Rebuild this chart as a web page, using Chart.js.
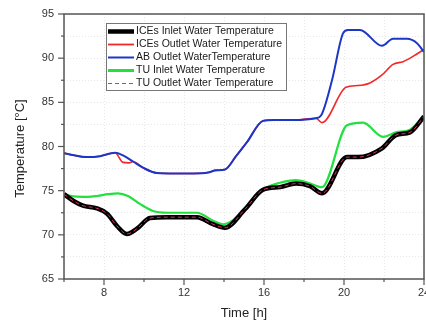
<!DOCTYPE html>
<html><head><meta charset="utf-8">
<script src="https://cdn.jsdelivr.net/npm/chart.js@4/dist/chart.umd.min.js"></script>
<style>html,body{margin:0;padding:0;background:#fff;}#wrap{width:426px;height:322px;}</style>
</head><body><div id="wrap"><canvas id="c" width="426" height="322"></canvas></div>
<script>
// ---- data (hours, °C) ----
const seriesNames = ["ICEs Inlet Water Temperature","ICEs Outlet Water Temperature","AB Outlet WaterTemperature","TU Inlet Water Temperature","TU Outlet Water Temperature"];

const iceInletHours = [6,6.5,6.95,7.65,8.15,8.65,9.15,9.65,10.3,11.15,12.65,13.45,14.05,15.05,15.95,16.8,17.6,18.3,18.9,20.15,20.7,21.9,22.6,23.3,24];
const iceInletTemp  = [74.6,73.8,73.3,73.0,72.4,71.0,70.1,70.7,71.9,72.0,72.0,71.2,70.8,72.9,75.1,75.4,75.8,75.5,74.7,78.8,78.8,79.8,81.3,81.6,83.4];

const abOutletHours = [6,6.5,7.1,7.8,8.55,8.95,9.45,9.95,10.65,11.5,12.5,13.2,13.6,14.05,14.6,15.15,15.95,16.5,17.5,18.6,18.85,19.4,19.95,20.2,20.8,21.9,22.45,23.15,23.65,24];
const abOutletTemp  = [79.25,79.0,78.8,78.9,79.3,79.0,78.3,77.6,77.0,76.95,76.95,77.05,77.3,77.4,78.9,80.5,82.9,83.0,83.0,83.2,83.5,87.5,92.8,93.2,93.2,91.4,92.2,92.2,91.7,90.7];

const iceOutletHours = [6,6.5,7.1,7.8,8.55,8.95,9.25,9.45,9.95,10.65,11.5,12.5,13.2,13.6,14.05,14.6,15.15,15.95,16.5,17.5,18.6,18.9,20.1,20.7,21.3,21.9,22.45,22.95,23.45,24];
const iceOutletTemp  = [79.25,79.0,78.8,78.9,79.3,78.2,78.15,78.3,77.6,77.0,76.95,76.95,77.05,77.3,77.4,78.9,80.5,82.9,83.0,83.0,83.2,82.7,86.7,86.9,87.2,88.1,89.3,89.6,90.2,91.0];

const tuInletHours = [6,6.5,7.2,7.65,8.2,8.7,9.2,9.8,10.45,11.15,12,12.65,13.45,13.95,15.1,15.95,16.8,17.6,18.2,18.9,20.15,20.95,21.95,22.6,23.3,24];
const tuInletTemp  = [74.6,74.35,74.3,74.4,74.6,74.7,74.4,73.5,72.7,72.5,72.5,72.5,71.6,71.2,73.0,75.1,75.9,76.2,75.9,75.4,82.4,82.7,81.1,81.6,81.9,83.4];

const tuOutletHours = [6,6.5,6.95,7.65,8.15,8.65,9.15,9.65,10.3,11.15,12.65,13.45,14.05,15.05,15.95,16.8,17.6,18.3,18.9,20.15,20.7,21.9,22.6,23.3,24];
const tuOutletTemp  = [74.6,73.8,73.3,73.0,72.4,71.0,70.1,70.7,71.9,72.0,72.0,71.2,70.8,72.9,75.1,75.4,75.8,75.5,74.7,78.8,78.8,79.8,81.3,81.6,83.4];

const xTickLabels = [8,12,16,20,24];
const yTickLabels = [65,70,75,80,85,90,95];

const pts = (h,t)=>h.map((x,i)=>({x:x,y:t[i]}));

const styles = [
  {color:'#000000', width:4.5, dash:[], order:3, lw:4.5},
  {color:'#f02828', width:1.6, dash:[], order:2, lw:1.8},
  {color:'#1c36c8', width:2, dash:[], order:1, lw:2},
  {color:'#22e040', width:2.2, dash:[], order:4, lw:3},
  {color:'#e0306a', width:1, dash:[4,3], order:0, lw:1}
];
const dataArr = [pts(iceInletHours,iceInletTemp),pts(iceOutletHours,iceOutletTemp),pts(abOutletHours,abOutletTemp),pts(tuInletHours,tuInletTemp),pts(tuOutletHours,tuOutletTemp)];

const datasets = dataArr.map((d,i)=>({
  label: seriesNames[i], data: d, borderColor: styles[i].color, borderWidth: styles[i].width,
  borderDash: styles[i].dash, order: styles[i].order, pointRadius:0, fill:false,
  cubicInterpolationMode:'monotone'
}));

const frame = {
  id:'frame',
  afterDraw(chart){
    const ctx=chart.ctx, a=chart.chartArea, xs=chart.scales.x, ys=chart.scales.y;
    ctx.save();
    ctx.strokeStyle='#555'; ctx.lineWidth=1.5;
    ctx.strokeRect(a.left,a.top,a.right-a.left,a.bottom-a.top);
    // ticks
    ctx.lineWidth=1.2;
    for(let v=6; v<=24; v+=2){
      const x=xs.getPixelForValue(v); const major = v%4===0;
      ctx.beginPath(); ctx.moveTo(x,a.bottom); ctx.lineTo(x,a.bottom+(major?6:3)); ctx.stroke();
    }
    for(let v=65; v<=95; v+=2.5){
      const y=ys.getPixelForValue(v); const major = v%5===0;
      ctx.beginPath(); ctx.moveTo(a.left,y); ctx.lineTo(a.left-(major?6:3),y); ctx.stroke();
    }
    // tick labels
    ctx.fillStyle='#333'; ctx.font='11px "Liberation Sans", Arial, sans-serif';
    ctx.textAlign='center'; ctx.textBaseline='middle';
    xTickLabels.forEach(v=>ctx.fillText(String(v), xs.getPixelForValue(v), 293));
    ctx.textAlign='right';
    yTickLabels.forEach(v=>ctx.fillText(String(v), 54, ys.getPixelForValue(v)));
    // axis titles
    ctx.fillStyle='#222'; ctx.font='13px "Liberation Sans", Arial, sans-serif';
    ctx.textAlign='center';
    ctx.fillText('Time [h]', 244, 313);
    ctx.save(); ctx.translate(20,(a.top+a.bottom)/2+2); ctx.rotate(-Math.PI/2);
    ctx.fillText('Temperature [°C]',0,0); ctx.restore();
    // legend
    const lx=106, ly=23, lw=180, lh=67;
    ctx.fillStyle='#fff'; ctx.fillRect(lx,ly,lw,lh);
    ctx.strokeStyle='#777'; ctx.lineWidth=1; ctx.strokeRect(lx+0.5,ly+0.5,lw,lh);
    ctx.font='10.5px "Liberation Sans", Arial, sans-serif'; ctx.textAlign='left';
    seriesNames.forEach((n,i)=>{
      const y=ly+8.5+i*13;
      ctx.beginPath(); ctx.strokeStyle=styles[i].color; ctx.lineWidth=styles[i].lw;
      ctx.setLineDash(styles[i].dash); ctx.moveTo(lx+2,y); ctx.lineTo(lx+28,y); ctx.stroke();
      ctx.setLineDash([]);
      ctx.fillStyle='#1a1a1a'; ctx.fillText(n, lx+30, y);
    });
    ctx.restore();
  }
};

new Chart(document.getElementById('c'),{
  type:'line',
  data:{datasets:datasets},
  options:{
    responsive:false, animation:false, devicePixelRatio:1,
    layout:{padding:{top:14,right:2,left:0,bottom:0}},
    plugins:{legend:{display:false},tooltip:{enabled:false}},
    scales:{
      x:{type:'linear',min:6,max:24,
        ticks:{stepSize:2,display:false},
        grid:{color:'rgba(0,0,0,0.09)',drawTicks:false},
        border:{display:false, dash:[1,2]},
        afterFit(s){s.height=43;s.paddingLeft=0;s.paddingRight=0;}},
      y:{type:'linear',min:65,max:95,
        ticks:{stepSize:2.5,display:false},
        grid:{color:'rgba(0,0,0,0.09)',drawTicks:false},
        border:{display:false, dash:[1,2]},
        afterFit(s){s.width=64;s.paddingTop=0;s.paddingBottom=0;}}
    }
  },
  plugins:[frame]
});
</script></body></html>
